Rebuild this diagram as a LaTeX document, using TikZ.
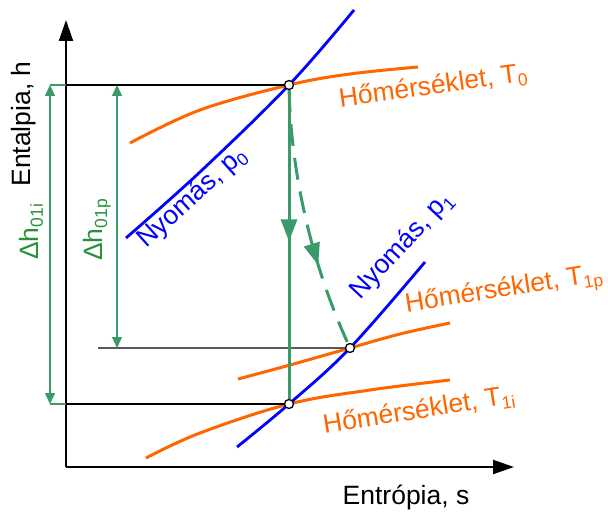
\documentclass[tikz,border=0pt]{standalone}
\usepackage{fontspec}
\setmainfont{Liberation Sans}
\usetikzlibrary{arrows.meta,decorations.markings}
\definecolor{lnGreen}{RGB}{58,154,106}
\definecolor{txtGreen}{RGB}{40,145,60}
\definecolor{tOrange}{RGB}{255,102,0}
\definecolor{pBlue}{RGB}{0,0,255}
\definecolor{gLine}{RGB}{90,90,90}
\newcommand\lowsub[1]{\raisebox{-0.17em}{\fontsize{17.5}{18}\selectfont #1}}
\begin{document}
\begin{tikzpicture}[x=1pt,y=-1pt,
  lbl/.style={inner sep=0pt, font=\fontsize{26.5}{28}\selectfont},
  axis/.style={line width=2pt, -{Triangle[length=21pt,width=14pt]}},
  dimarrow/.style={draw=lnGreen, line width=1.3pt, {Triangle[length=11pt,width=10pt]}-{Triangle[length=11pt,width=10pt]}},
  extline/.style={draw=lnGreen, line width=1.3pt},
  isoT/.style={draw=tOrange, line width=3pt},
  isoP/.style={draw=pBlue, line width=2.8pt},
  statept/.style={circle, draw=black, fill=white, line width=1.3pt, minimum size=9pt, inner sep=0pt},
  process/.style={draw=lnGreen, line width=3pt},
  midarrow/.style={postaction=decorate, decoration={markings, mark=at position #1 with {\arrow{Triangle[length=22pt,width=16pt]}}}}
]
\useasboundingbox (0,0) rectangle (608,516);

% axes
\coordinate (O) at (66,467);
\coordinate (ytip) at (66,20);
\coordinate (xtip) at (514,467);
\draw[axis] (O) -- (ytip);
\draw[axis] (O) -- (xtip);

% isotherms
\draw[isoT] plot[smooth, tension=0.6] coordinates {(130,143) (200,110) (289,85) (350,74) (418,67)};
\draw[isoT] plot[smooth, tension=0.6] coordinates {(238,379) (290,365) (350,348) (400,334) (450,323)};
\draw[isoT] plot[smooth, tension=0.6] coordinates {(146,458) (200,433) (289,404) (370,390) (450,380)};

% isobars
\draw[isoP] plot[smooth, tension=0.6] coordinates {(126,238) (200,172) (289,85) (354,10)};
\draw[isoP] plot[smooth, tension=0.6] coordinates {(237,447) (289,404) (350,348) (425,262)};

% state points
\node[statept] (P0) at (289,85) {};
\node[statept] (P1p) at (350,348) {};
\node[statept] (P1i) at (289,404) {};

% reference lines
\coordinate (h0) at (66,85);
\coordinate (hp) at (98,348);
\coordinate (hi) at (66,404);
\draw[line width=1.8pt] (h0) -- (P0);
\draw[draw=gLine, line width=1.3pt] (hp) -- (P1p);
\draw[line width=1.8pt] (hi) -- (P1i);

% dimension arrows
\coordinate (d0) at (50,85);
\coordinate (di) at (50,404);
\coordinate (e0) at (117,85);
\coordinate (ep) at (117,348);
\draw[extline] (d0) -- (h0);
\draw[extline] (di) -- (hi);
\draw[dimarrow] (di) -- (d0);
\draw[dimarrow] (ep) -- (e0);

% processes
\draw[process, midarrow=0.49] (P0) -- (P1i);
\draw[process, dash pattern=on 22pt off 12pt, midarrow=0.68] (P0) .. controls (291,170) and (310,260) .. (P1p);

% labels
\node[lbl, rotate=90] (ylab) at (24,124) {Entalpia, h};
\node[lbl] (xlab) at (406,497) {Entrópia, s};
\node[lbl, text=txtGreen, rotate=90] (dhi) at (31,232) {Δh\lowsub{01i}};
\node[lbl, text=txtGreen, rotate=90] (dhp) at (97,230) {Δh\lowsub{01p}};
\node[lbl, text=pBlue, rotate=42] (lp0) at (192,198) {Nyomás, p\lowsub{0}};
\node[lbl, text=pBlue, rotate=47] (lp1) at (402,246) {Nyomás, p\lowsub{1}};
\node[lbl, text=tOrange, rotate=8] (lt0) at (433,87) {Hőmérséklet, T\lowsub{0}};
\node[lbl, text=tOrange, rotate=9] (lt1p) at (504,291) {Hőmérséklet, T\lowsub{1p}};
\node[lbl, text=tOrange, rotate=9] (lt1i) at (419,411) {Hőmérséklet, T\lowsub{1i}};
\end{tikzpicture}
\end{document}
